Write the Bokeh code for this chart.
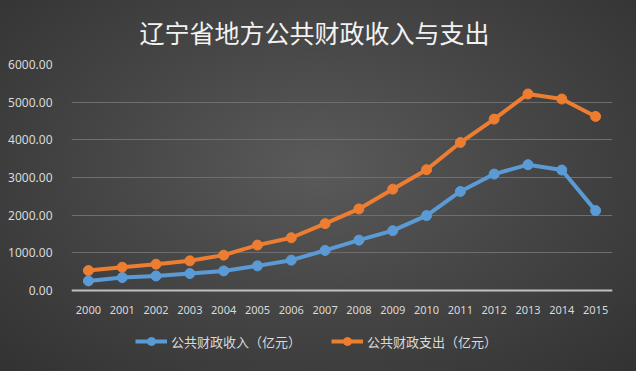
from bokeh.plotting import figure
from bokeh.models import ColumnDataSource, Legend, LegendItem, NumeralTickFormatter, FixedTicker, Range1d
from bokeh.embed import file_html
from bokeh.resources import INLINE

years = [str(y) for y in range(2000, 2016)]
revenue = [258, 347, 391, 453, 524, 658, 809, 1067, 1340, 1591, 1991, 2631, 3093, 3342, 3200, 2124]
expenditure = [533, 622, 702, 791, 942, 1209, 1404, 1778, 2169, 2693, 3209, 3929, 4551, 5218, 5084, 4622]
y_ticks = [0, 1000, 2000, 3000, 4000, 5000, 6000]
rev_label = "公共财政收入（亿元）"
exp_label = "公共财政支出（亿元）"
title_text = "辽宁省地方公共财政收入与支出"

BLUE = "#5b9bd5"
ORANGE = "#ed7d31"
TXT = "#d9d9d9"

src = ColumnDataSource(dict(year=years, rev=revenue, exp=expenditure))

# frame extends below zero to leave room for the legend under the x axis
p = figure(frame_width=541, frame_height=294, x_range=years, y_range=Range1d(-1800, 6000),
           output_backend="svg", toolbar_location=None,
           min_border_left=71, min_border_right=24, min_border_top=64, min_border_bottom=13)
p.background_fill_alpha = 0
p.border_fill_alpha = 0
p.outline_line_color = None
p.styles = {"background": "radial-gradient(ellipse at 50% 45%, #5a5a5a 0%, #474747 45%, #323232 100%)"}

p.title.text = title_text
p.title.align = "left"
p.title.offset = 68
p.title.vertical_align = "top"
p.title.text_font = "Noto Sans CJK SC"
p.title.text_font_size = "25px"
p.title.text_font_style = "normal"
p.title.text_color = "#f2f2f2"
p.title.standoff = 26

r1 = p.line("year", "rev", source=src, line_color=BLUE, line_width=4)
c1 = p.scatter("year", "rev", source=src, size=10, fill_color=BLUE, line_color=BLUE)
r2 = p.line("year", "exp", source=src, line_color=ORANGE, line_width=4)
c2 = p.scatter("year", "exp", source=src, size=10, fill_color=ORANGE, line_color=ORANGE)

p.yaxis.ticker = FixedTicker(ticks=y_ticks)
p.yaxis.formatter = NumeralTickFormatter(format="0.00")
p.yaxis.axis_line_color = None
p.yaxis.major_tick_line_color = None
p.yaxis.minor_tick_line_color = None
p.yaxis.major_label_text_color = TXT
p.yaxis.major_label_text_font = "Noto Sans"
p.yaxis.major_label_text_font_size = "12px"
p.yaxis.major_label_standoff = 13

p.xaxis.fixed_location = 0
p.xaxis.axis_line_color = "#bfbfbf"
p.xaxis.axis_line_width = 2
p.xaxis.major_tick_line_color = None
p.xaxis.minor_tick_line_color = None
p.xaxis.major_label_text_color = TXT
p.xaxis.major_label_text_font = "Noto Sans"
p.xaxis.major_label_text_font_size = "11px"
p.xaxis.major_label_standoff = 9

p.xgrid.grid_line_color = None
p.ygrid.grid_line_color = "#6e6e6e"
p.ygrid.grid_line_width = 1

legend = Legend(items=[LegendItem(label=rev_label, renderers=[r1, c1]),
                       LegendItem(label=exp_label, renderers=[r2, c2])],
                orientation="horizontal", location=(64, 7),
                background_fill_alpha=0, border_line_color=None,
                label_text_color=TXT, label_text_font="Noto Sans CJK SC",
                label_text_font_size="13px", glyph_width=32, glyph_height=20,
                label_height=20, label_standoff=4, spacing=30,
                margin=0, padding=0)
p.add_layout(legend)

open("out.html", "w").write(file_html(p, INLINE))
